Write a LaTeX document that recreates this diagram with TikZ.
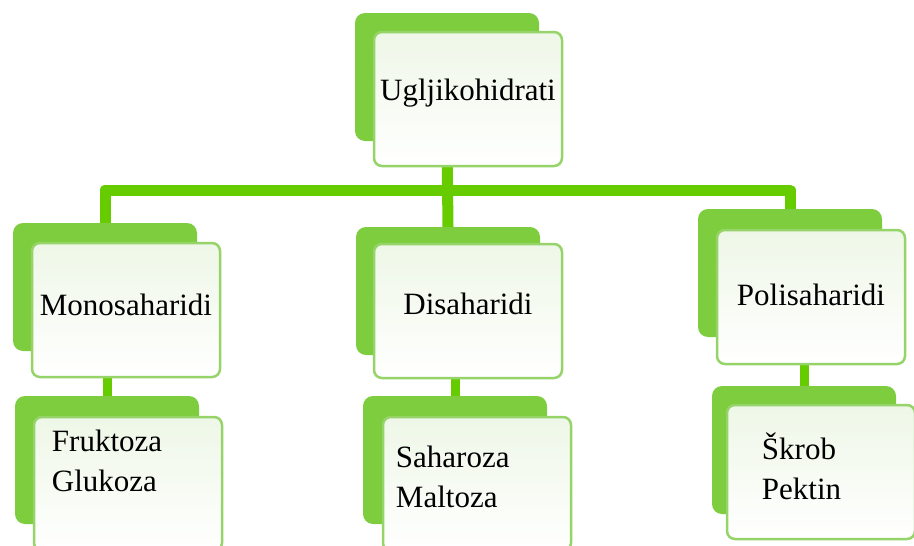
\documentclass[tikz,border=0pt]{standalone}
\usepackage{fontspec}
\setmainfont{Liberation Serif}
\usetikzlibrary{backgrounds}
\definecolor{linkgreen}{RGB}{102,204,0}
\definecolor{backgreen}{RGB}{125,205,62}
\definecolor{framegreen}{RGB}{150,212,105}
\definecolor{paleface}{RGB}{238,247,231}

\begin{document}
\begin{tikzpicture}[x=1pt,y=-1pt,
  backbox/.style={rectangle,rounded corners=10pt,fill=backgreen,
    minimum width=184pt,minimum height=128pt},
  frontbox/.style={rectangle,rounded corners=8pt,draw=framegreen,line width=2.5pt,
    top color=paleface,bottom color=white,inner sep=2pt,
    minimum width=188pt,minimum height=134pt,
    font=\fontsize{31pt}{40pt}\selectfont},
  listtext/.style={anchor=north west,align=left,inner sep=0pt,
    font=\fontsize{31pt}{40pt}\selectfont},
  link/.style={draw=linkgreen,line width=11pt,line cap=round,line join=round}]
\useasboundingbox (0,0) rectangle (914,546);
% top box
\node[backbox] (ugljiB) at (447,77) {};
\node[frontbox] (ugljik) at (468,99) {\raisebox{19pt}{Ugljikohidrati}};
% second row
\node[backbox] (monoB) at (105,287) {};
\node[frontbox] (mono) at (126,310) {\raisebox{10pt}{Monosaharidi}};
\node[backbox] (disB) at (448,291) {};
\node[frontbox] (dis) at (468,311) {\raisebox{14pt}{Disaharidi}};
\node[backbox] (poliB) at (790,273) {};
\node[frontbox] (poli) at (811,297) {\raisebox{5pt}{Polisaharidi}};
% third row
\node[backbox] (fruktozaB) at (107,460) {};
\node[frontbox] (fruktoza) at (128,484) {};
\node[listtext] (fruktozaT) at ([xshift=19pt,yshift=-14pt]fruktoza.north west) {Fruktoza\\Glukoza};
\node[backbox] (saharozaB) at (455,460) {};
\node[frontbox] (saharoza) at (477,484) {};
\node[listtext] (saharozaT) at ([xshift=14pt,yshift=-30pt]saharoza.north west) {Saharoza\\Maltoza};
\node[backbox] (skrobB) at (804,450) {};
\node[frontbox] (skrob) at (821,472) {};
\node[listtext] (skrobT) at ([xshift=36pt,yshift=-29pt]skrob.north west) {Škrob\\Pektin};
% connectors
\coordinate (fork) at (450,190);
\begin{scope}[on background layer]
  \draw[link] (ugljiB.south) -- (disB.north);
  \draw[link] (monoB.north) -- (monoB.north |- fork) -| (poliB.north);
  \draw[link,line width=9pt] (fruktozaB.north) -- (fruktozaB.north |- mono.south);
  \draw[link,line width=9pt] (saharozaB.north) -- (saharozaB.north |- dis.south);
  \draw[link,line width=9pt] (skrobB.north) -- (skrobB.north |- poli.south);
\end{scope}
\end{tikzpicture}
\end{document}
